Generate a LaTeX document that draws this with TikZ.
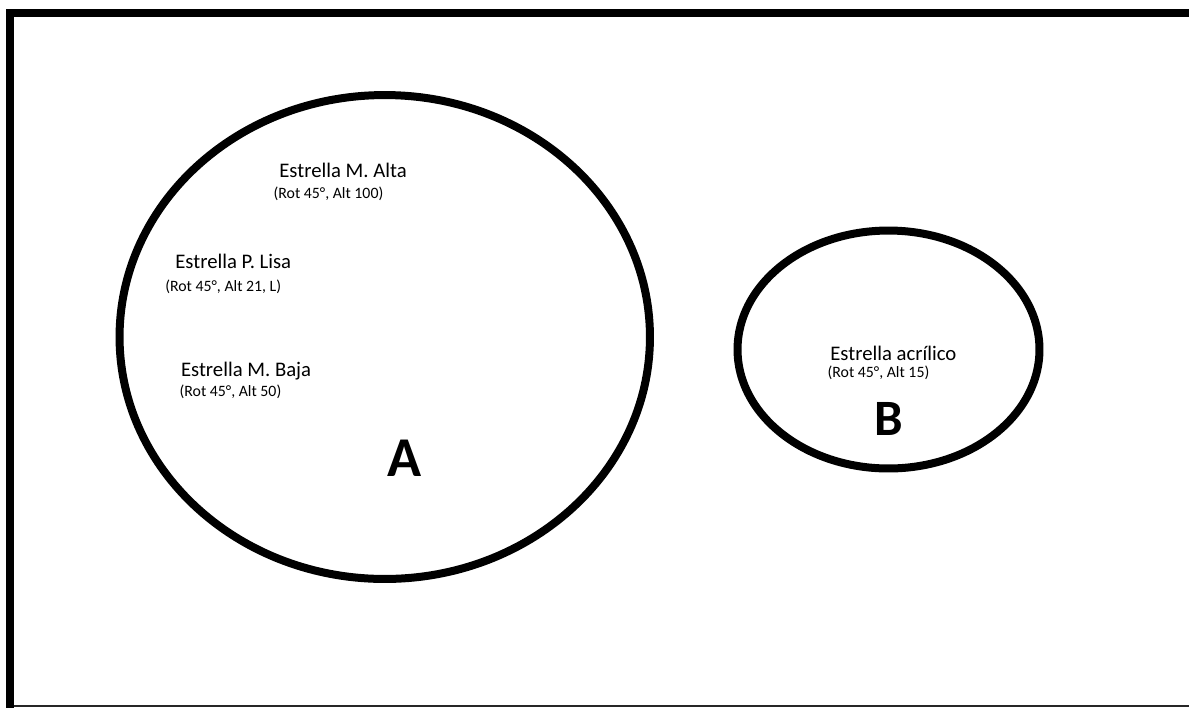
\documentclass[tikz,border=0pt]{standalone}
\usepackage{fontspec}
\setmainfont{Carlito}
\usetikzlibrary{positioning}

\begin{document}
\begin{tikzpicture}[x=0.02cm,y=-0.02cm,
	ring/.style={line width=0.16cm},
	titulo/.style={anchor=base west,inner sep=0pt,font=\fontsize{11.8}{14}\selectfont},
	detalle/.style={anchor=base west,inner sep=0pt,font=\fontsize{9}{11}\selectfont},
	letra/.style={anchor=base west,inner sep=0pt,font=\bfseries\fontsize{#1}{#1}\selectfont}
	]
	\useasboundingbox (0,0) rectangle (1189,708);

	\fill (6,9) rectangle (1189,17);
	\fill (6,9) rectangle (14,708);
	\fill[black!85] (14,705) rectangle (1189,707);

	\coordinate (cA) at (384.75,337);
	\coordinate (cB) at (888.5,349.5);
	\draw[ring] (cA) ellipse [x radius=5.305cm,y radius=4.84cm];
	\draw[ring] (cB) ellipse [x radius=3.02cm,y radius=2.38cm];

	\node[titulo] (alta) at (279,177.3) {Estrella M. Alta};
	\node[detalle] (altaD) at (273.3,198.5) {(Rot 45°, Alt 100)};
	\node[titulo] (lisa) at (175,268.3) {Estrella P. Lisa};
	\node[detalle] (lisaD) at (165,291) {(Rot 45°, Alt 21, L)};
	\node[titulo] (baja) at (180.7,376.7) {Estrella M. Baja};
	\node[detalle] (bajaD) at (179.3,396.3) {(Rot 45°, Alt 50)};

	\node[titulo] (acril) at (830,360) {Estrella acrílico};
	\node[detalle] (acrilD) at (827.3,377) {(Rot 45°, Alt 15)};

	\node[letra=32] (letA) at (387,476.7) {A};
	\node[letra=29] (letB) at (874,435) {B};
\end{tikzpicture}
\end{document}
